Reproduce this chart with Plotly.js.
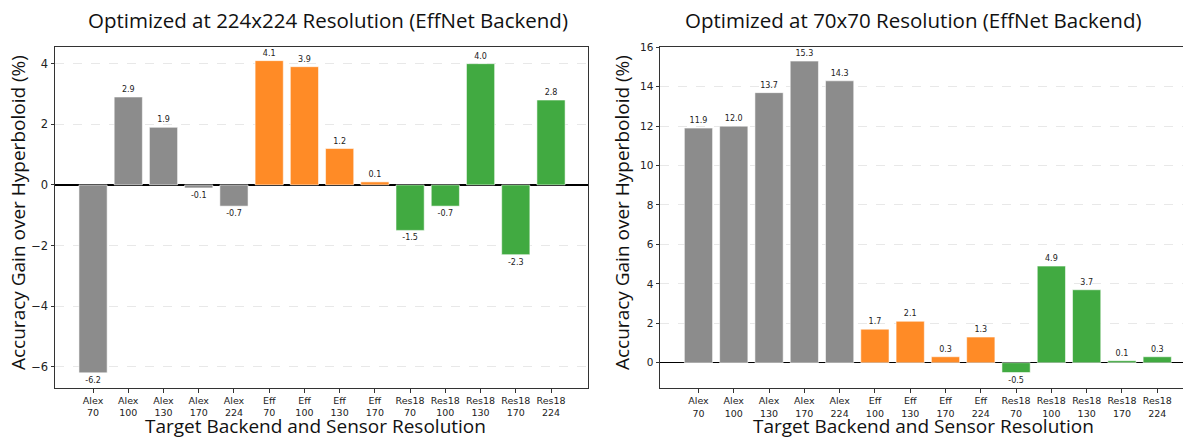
<!DOCTYPE html>
<html>
<head>
<meta charset="utf-8">
<script src="https://cdn.plot.ly/plotly-3.0.1.min.js"></script>
<style>html,body{margin:0;padding:0;background:#fff;overflow:hidden}#chart{width:1183px;height:438px}</style>
</head>
<body>
<div id="chart"></div>
<script>
// Left panel: optimized at 224x224
const catsLeft = ["Alex<br>70","Alex<br>100","Alex<br>130","Alex<br>170","Alex<br>224","Eff<br>70","Eff<br>100","Eff<br>130","Eff<br>170","Res18<br>70","Res18<br>100","Res18<br>130","Res18<br>170","Res18<br>224"];
const valsLeft = [-6.2, 2.9, 1.9, -0.1, -0.7, 4.1, 3.9, 1.2, 0.1, -1.5, -0.7, 4.0, -2.3, 2.8];
// Right panel: optimized at 70x70
const catsRight = ["Alex<br>70","Alex<br>100","Alex<br>130","Alex<br>170","Alex<br>224","Eff<br>100","Eff<br>130","Eff<br>170","Eff<br>224","Res18<br>70","Res18<br>100","Res18<br>130","Res18<br>170","Res18<br>224"];
const valsRight = [11.9, 12.0, 13.7, 15.3, 14.3, 1.7, 2.1, 0.3, 1.3, -0.5, 4.9, 3.7, 0.1, 0.3];

const titleLeft = "Optimized at 224x224 Resolution (EffNet Backend)";
const titleRight = "Optimized at 70x70 Resolution (EffNet Backend)";
const xTitle = "Target Backend and Sensor Resolution";
const yTitle = "Accuracy Gain over Hyperboloid (%)";

const groupColors = {Alex: "rgb(140,140,140)", Eff: "rgb(255,139,38)", Res18: "rgb(65,170,65)"};
function colorsFor(cats){ return cats.map(c => groupColors[c.split("<br>")[0]]); }
function labelsFor(vals){ return vals.map(v => v.toFixed(1)); }

const W = 1183, H = 438;
const px = x => x / W;
const py = y => 1 - y / H;

function barTrace(cats, vals, xa, ya){
  return {
    type: "bar", x: cats, y: vals, xaxis: xa, yaxis: ya,
    marker: {color: colorsFor(cats), line: {color: "rgba(255,255,255,0.55)", width: 1}},
    text: labelsFor(vals), textposition: "outside", cliponaxis: false,
    textangle: 0, constraintext: "none",
    textfont: {family: "DejaVu Sans", size: 8, color: "#222"},
    hoverinfo: "skip", showlegend: false
  };
}

const axisCommon = {
  showline: true, linecolor: "#333", linewidth: 1,
  ticks: "outside", ticklen: 3.5, tickwidth: 1, tickcolor: "#333",
  tickfont: {family: "DejaVu Sans", size: 10, color: "#222"}
};

const titleFont = {family: "Open Sans", size: 20.5, color: "#111"};
const axTitleFont = {family: "Open Sans", size: 19, color: "#111"};

const layout = {
  width: W, height: H, margin: {l: 0, r: 0, t: 0, b: 0},
  paper_bgcolor: "#fff", plot_bgcolor: "#fff",
  bargap: 0.2, showlegend: false,
  xaxis: Object.assign({}, axisCommon, {
    domain: [px(55), px(588)], anchor: "y", type: "category",
    range: [-1.08, 14.05], mirror: true, showgrid: false,
    tickfont: {family: "DejaVu Sans", size: 9.5, color: "#222"}
  }),
  yaxis: Object.assign({}, axisCommon, {
    domain: [py(388), py(47)], anchor: "x",
    range: [-6.7, 4.55], mirror: true,
    tickvals: [-6, -4, -2, 0, 2, 4],
    tickfont: {family: "DejaVu Sans", size: 11.5, color: "#222"},
    showgrid: true, gridcolor: "#e2e2e2", gridwidth: 0.8, griddash: "dash",
    zeroline: true, zerolinecolor: "#000", zerolinewidth: 1.2
  }),
  xaxis2: Object.assign({}, axisCommon, {
    domain: [px(660), 1], anchor: "y2", type: "category",
    range: [-1.09, 13.73], mirror: true, showgrid: false,
    tickfont: {family: "DejaVu Sans", size: 9.5, color: "#222"}
  }),
  yaxis2: Object.assign({}, axisCommon, {
    domain: [py(388.3), py(47.3)], anchor: "x2",
    range: [-1.3, 16], mirror: false,
    tickvals: [0, 2, 4, 6, 8, 10, 12, 14, 16],
    tickfont: {family: "DejaVu Sans", size: 10.5, color: "#222"},
    showgrid: true, gridcolor: "#e2e2e2", gridwidth: 0.8, griddash: "dash",
    zeroline: true, zerolinecolor: "#000", zerolinewidth: 1.2
  }),
  annotations: [
    {text: titleLeft, xref: "paper", yref: "paper", x: px(328), y: py(20), xanchor: "center", yanchor: "middle", showarrow: false, font: titleFont},
    {text: titleRight, xref: "paper", yref: "paper", x: px(913), y: py(20), xanchor: "center", yanchor: "middle", showarrow: false, font: titleFont},
    {text: xTitle, xref: "paper", yref: "paper", x: px(315), y: 0, xanchor: "center", yanchor: "bottom", yshift: -3, showarrow: false, font: axTitleFont},
    {text: xTitle, xref: "paper", yref: "paper", x: px(923), y: 0, xanchor: "center", yanchor: "bottom", yshift: -3, showarrow: false, font: axTitleFont},
    {text: yTitle, xref: "paper", yref: "paper", x: px(18), y: py(213), xanchor: "center", yanchor: "middle", textangle: -90, showarrow: false, font: axTitleFont},
    {text: yTitle, xref: "paper", yref: "paper", x: px(622), y: py(213), xanchor: "center", yanchor: "middle", textangle: -90, showarrow: false, font: axTitleFont}
  ]
};

Plotly.newPlot("chart", [
  barTrace(catsLeft, valsLeft, "x", "y"),
  barTrace(catsRight, valsRight, "x2", "y2")
], layout, {staticPlot: true, displayModeBar: false});
</script>
</body>
</html>
